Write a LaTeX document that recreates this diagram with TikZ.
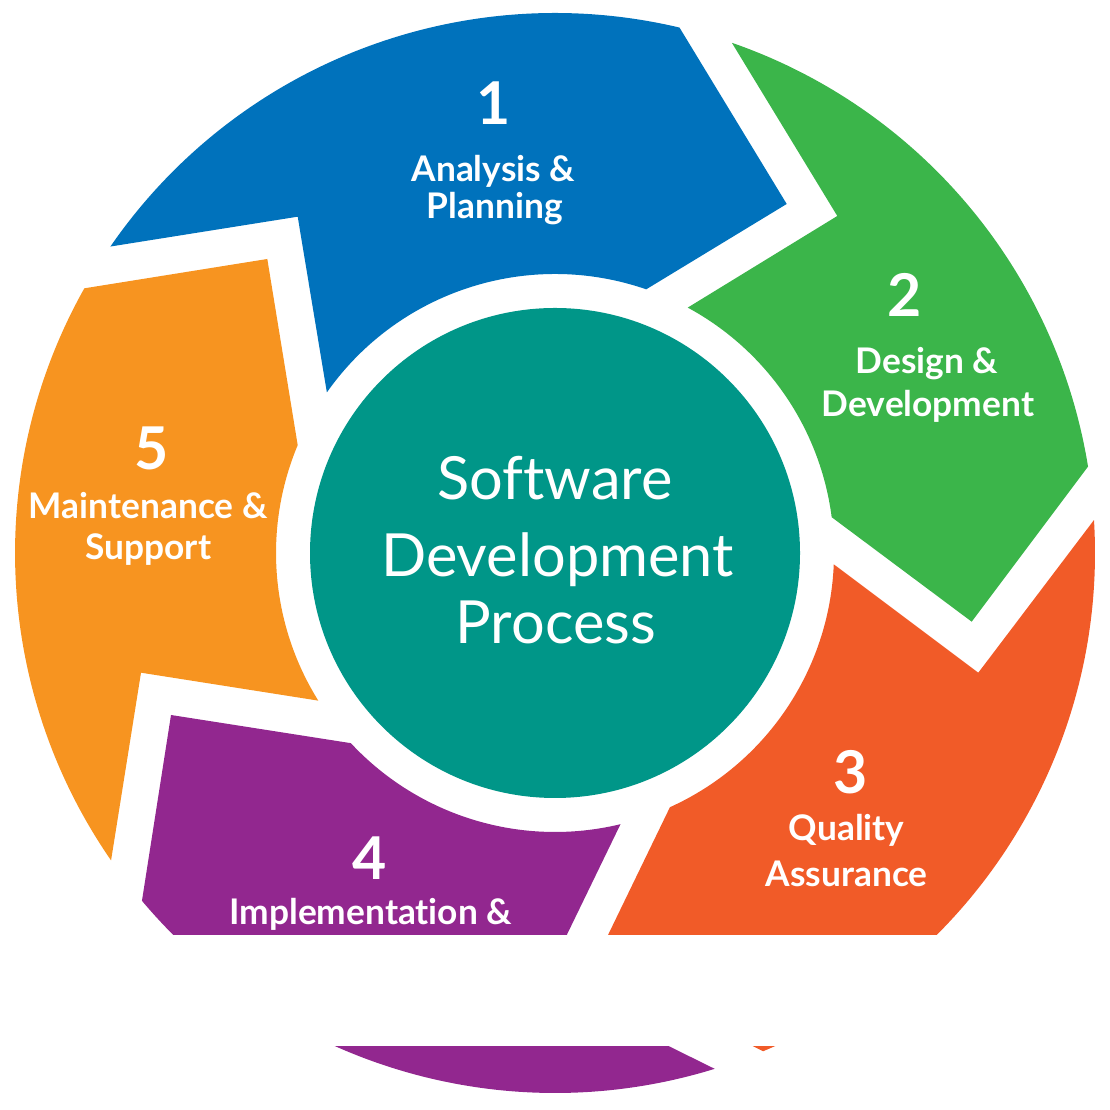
\documentclass[tikz,border=0pt]{standalone}
\usepackage{fontspec}
\setmainfont{Lato}[Ligatures={NoCommon,NoRare}]
\definecolor{cblue}{RGB}{0,114,188}
\definecolor{cgreen}{RGB}{59,181,74}
\definecolor{cred}{RGB}{241,91,40}
\definecolor{cpurple}{RGB}{146,39,143}
\definecolor{corange}{RGB}{247,148,32}
\definecolor{cteal}{RGB}{0,150,136}
\begin{document}
\begin{tikzpicture}[x=1pt,y=1pt,
  num/.style={text=white,font=\fontsize{59}{59}\selectfont\bfseries,inner sep=0pt,anchor=base},
  lbl/.style={text=white,font=\fontsize{35.3}{35.3}\selectfont\bfseries,inner sep=0pt,anchor=base},
  ctr/.style={text=white,font=\fontsize{59.5}{59.5}\selectfont,inner sep=0pt,anchor=base}]
\useasboundingbox (0,0) rectangle (1110,1110);
\coordinate (C) at (555,557);
% centre disc
\fill[cteal] (C) circle[radius=245];
% segment 1
\fill[cblue] ([shift={(C)}]145.42:540) arc[start angle=145.42,end angle=76.67,radius=540]
  -- (786.7,906) -- ([shift={(C)}]70.92:279) arc[start angle=70.92,end angle=144.86,radius=279]
  -- (297.7,893.3) -- cycle;
% segment 2
\fill[cgreen] ([shift={(C)}]70.88:540) arc[start angle=70.88,end angle=9.21,radius=540]
  -- (971.7,488.3) -- ([shift={(C)}]7.37:279) arc[start angle=7.37,end angle=61.59,radius=279]
  -- (837.3,894) -- cycle;
% segment 3
\fill[cred] ([shift={(C)}]3.50:540) arc[start angle=3.50,end angle=-67.33,radius=540]
  -- (592.6,143.2) -- ([shift={(C)}]-65.67:279) arc[start angle=-65.67,end angle=-2.33,radius=279]
  -- (978.3,437.3) -- cycle;
% segment 4
\fill[cpurple] ([shift={(C)}]-72.80:540) arc[start angle=-72.80,end angle=-139.90,radius=540]
  -- (171,395) -- ([shift={(C)}]-137.03:279) arc[start angle=-137.03,end angle=-76.42,radius=279]
  -- (543,126) -- cycle;
% segment 5
\fill[corange] ([shift={(C)}]214.70:540) arc[start angle=214.70,end angle=150.65,radius=540]
  -- (267.3,851) -- ([shift={(C)}]157.26:279) arc[start angle=157.26,end angle=211.95,radius=279]
  -- (141,437.3) -- cycle;
% labels
\node[num] (n1) at (494,985) {1};
\node[lbl] (t1a) at (493.3,928.3) {Analysis \&};
\node[lbl] (t1b) at (494.7,891.2) {Planning};
\node[num] (n2) at (904.5,793.3) {2};
\node[lbl] (t2a) at (927,736.7) {Design \&};
\node[lbl] (t2b) at (928,693.3) {Development};
\node[num] (n3) at (851,316.7) {3};
\node[lbl] (t3a) at (846.7,269) {Quality};
\node[lbl] (t3b) at (846.7,223.3) {Assurance};
\node[num] (n4) at (370,230) {4};
\node[lbl] (t4a) at (370.8,185) {Implementation \&};
\node[num] (n5) at (151.7,640) {5};
\node[lbl] (t5a) at (148.3,591) {Maintenance \&};
\node[lbl] (t5b) at (148.3,550) {Support};
% centre text
\node[ctr] (c1) at (555,610) {Software};
\node[ctr] (c2) at (557.5,533.3) {Development};
\node[ctr] (c3) at (555.8,466.7) {Process};
% white band
\fill[white] (0,64.3) rectangle (1110,175);
\end{tikzpicture}
\end{document}
